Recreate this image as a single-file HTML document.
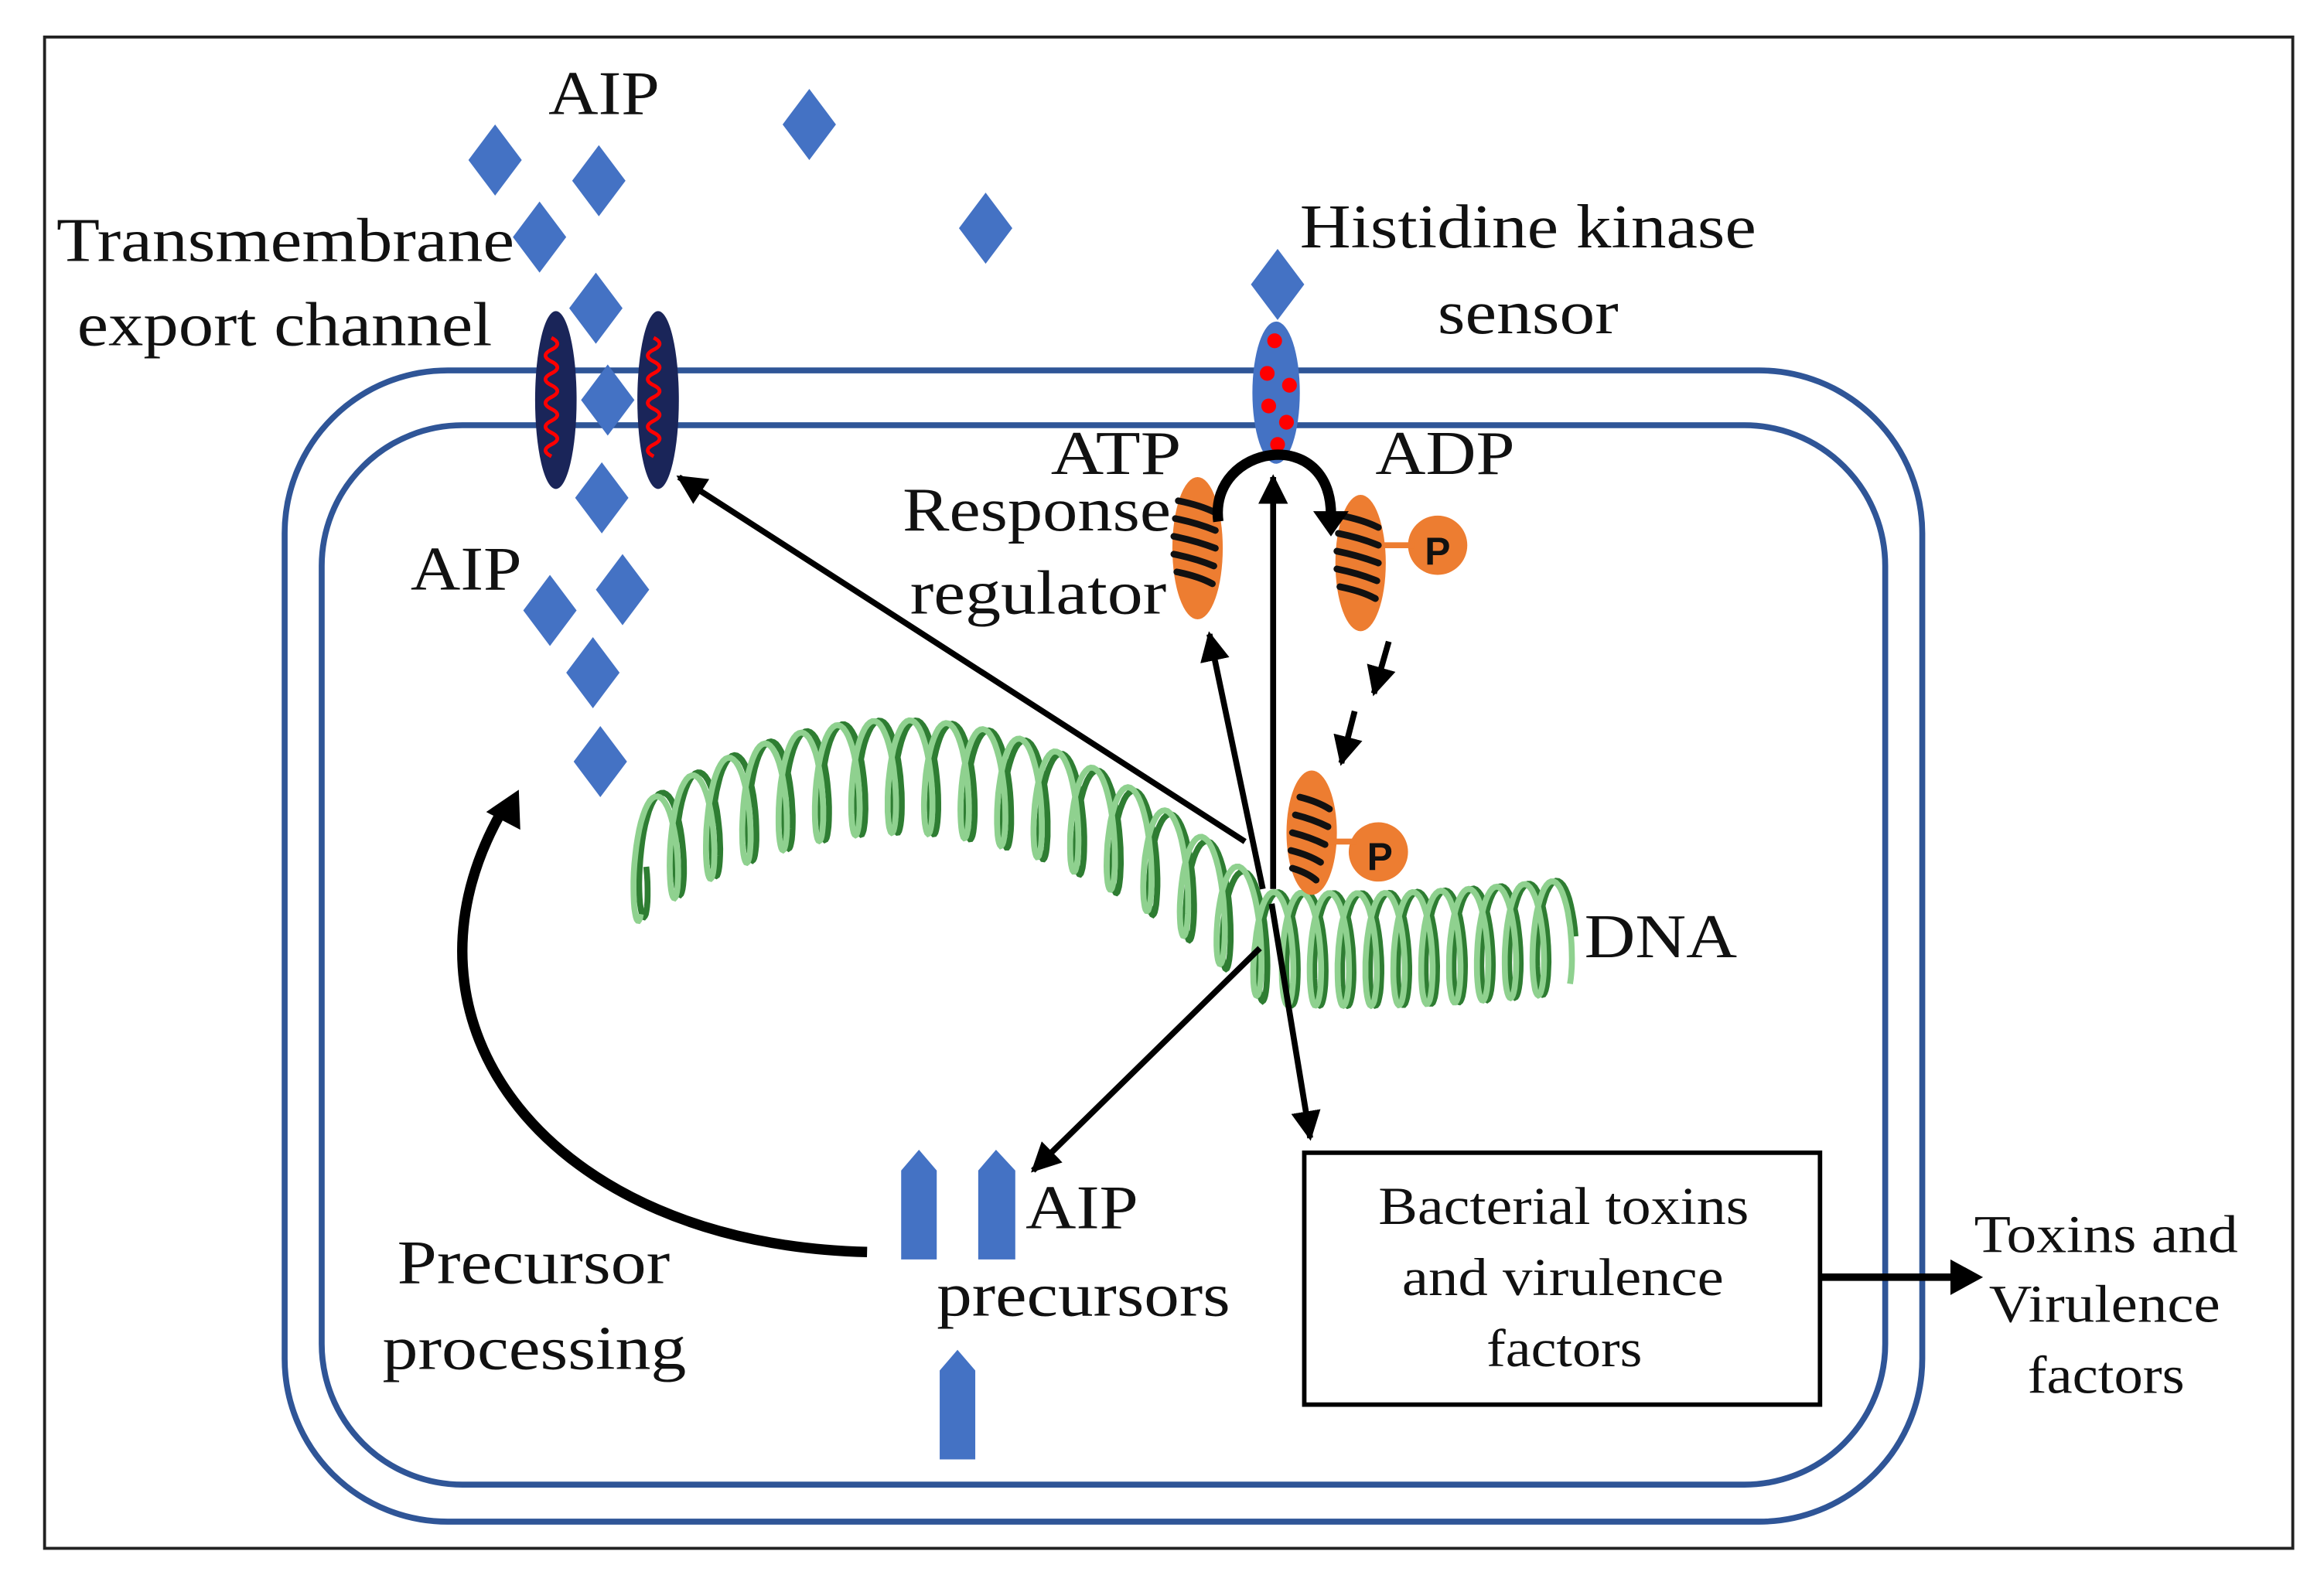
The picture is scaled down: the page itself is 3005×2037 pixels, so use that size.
<!DOCTYPE html>
<html><head><meta charset="utf-8"><style>
html,body{margin:0;padding:0;background:#fff}
svg{display:block}
text{font-family:"Liberation Serif",serif;fill:#111}
</style></head><body>
<svg id="s" width="3005" height="2037" viewBox="0 0 1568 1063" xmlns="http://www.w3.org/2000/svg">
<defs>
<marker id="ah" viewBox="0 0 10 10" refX="9" refY="5" markerWidth="5" markerHeight="5" orient="auto"><path d="M0,0L10,5L0,10z" fill="#000"/></marker>
</defs>
<rect x="30" y="25" width="1517" height="1020" fill="none" stroke="#222" stroke-width="2"/>
<rect x="192" y="250" width="1105" height="777" rx="110" fill="none" stroke="#2f5597" stroke-width="4"/>
<rect x="217" y="287" width="1055" height="715" rx="95" fill="none" stroke="#2f5597" stroke-width="4"/>
<g id="dna"></g>
<ellipse cx="375" cy="270" rx="14" ry="60" fill="#1a2559"/>
<ellipse cx="444" cy="270" rx="14" ry="60" fill="#1a2559"/>
<path d="M372,228 q8,4 0,8 q-8,4 0,8 q8,4 0,8 q-8,4 0,8 q8,4 0,8 q-8,4 0,8 q8,4 0,8 q-8,4 0,8 q8,4 0,8 q-8,4 0,8" fill="none" stroke="#f00" stroke-width="2.5"/>
<path d="M441,228 q8,4 0,8 q-8,4 0,8 q8,4 0,8 q-8,4 0,8 q8,4 0,8 q-8,4 0,8 q8,4 0,8 q-8,4 0,8 q8,4 0,8 q-8,4 0,8" fill="none" stroke="#f00" stroke-width="2.5"/>
<g fill="#4472c4" id="dia"></g>
<ellipse cx="861" cy="265" rx="16" ry="48" fill="#4472c4"/>
<g fill="#f00"><circle cx="860" cy="230" r="5"/><circle cx="855" cy="252" r="5"/><circle cx="870" cy="260" r="5"/><circle cx="856" cy="274" r="5"/><circle cx="868" cy="285" r="5"/><circle cx="862" cy="300" r="5"/></g>
<g fill="#ed7d31">
<ellipse cx="808" cy="370" rx="17" ry="48"/>
<ellipse cx="918" cy="380" rx="17" ry="46"/><circle cx="970" cy="368" r="20"/><rect x="930" y="366" width="24" height="4"/>
<ellipse cx="885" cy="562" rx="17" ry="42"/><circle cx="930" cy="575" r="20"/><rect x="895" y="566" width="20" height="4"/>
</g>
<g stroke="#111" stroke-width="4.5" fill="none" stroke-linecap="round">
<path d="M795,338 q15,3 25,8 M793,350 q15,3 27,8 M792,362 q15,3 28,8 M792,374 q15,3 27,8 M794,386 q15,3 24,8"/>
<path d="M905,348 q15,3 25,8 M903,360 q15,3 27,8 M902,372 q15,3 28,8 M902,384 q15,3 27,8 M904,396 q15,3 24,8"/>
<path d="M877,538 q12,3 20,8 M874,550 q12,3 22,8 M872,562 q12,3 22,8 M871,574 q12,3 20,8 M872,586 q10,3 16,8"/>
</g>
<text x="970" y="381" font-weight="bold" font-size="26" text-anchor="middle" style="font-family:'Liberation Sans',sans-serif">P</text>
<text x="931" y="587" font-weight="bold" font-size="26" text-anchor="middle" style="font-family:'Liberation Sans',sans-serif">P</text>
<g stroke="#000" stroke-width="4" fill="none" marker-end="url(#ah)">
<line x1="840" y1="568" x2="458" y2="322"/>
<line x1="852" y1="600" x2="816" y2="428"/>
<line x1="859" y1="600" x2="859" y2="322"/>
<line x1="850" y1="640" x2="697" y2="790"/>
<line x1="858" y1="610" x2="884" y2="768"/>
<line x1="937" y1="433" x2="927" y2="468"/>
<line x1="914" y1="480" x2="905" y2="515"/>
</g>
<path d="M822,352 C815,300 900,285 898,350" stroke="#000" stroke-width="7" fill="none"/>
<path d="M886,345 L910,345 L898,362z" fill="#000"/>
<path d="M585,845 C370,840 255,690 340,545" stroke="#000" stroke-width="7" fill="none"/>
<path d="M328,548 L350,533 L351,560z" fill="#000"/>
<g fill="#4472c4">
<path d="M608,850 V790 L620,776 L632,790 V850z"/>
<path d="M660,850 V790 L672,776 L685,790 V850z"/>
<path d="M634,985 V925 L646,911 L658,925 V985z"/>
</g>
<rect x="880" y="778" width="348" height="170" fill="none" stroke="#000" stroke-width="3"/>
<line x1="1228" y1="862" x2="1318" y2="862" stroke="#000" stroke-width="5"/>
<path d="M1316,850 L1338,862 L1316,874z" fill="#000"/>
<g font-size="42" lengthAdjust="spacingAndGlyphs">
<text x="370" y="77" textLength="75" lengthAdjust="spacingAndGlyphs">AIP</text>
<text x="38" y="176" textLength="309" lengthAdjust="spacingAndGlyphs">Transmembrane</text>
<text x="52" y="233" textLength="280" lengthAdjust="spacingAndGlyphs">export channel</text>
<text x="277" y="398" textLength="75" lengthAdjust="spacingAndGlyphs">AIP</text>
<text x="877" y="167" textLength="308" lengthAdjust="spacingAndGlyphs">Histidine kinase</text>
<text x="970" y="225" textLength="122" lengthAdjust="spacingAndGlyphs">sensor</text>
<text x="709" y="320" textLength="88" lengthAdjust="spacingAndGlyphs">ATP</text>
<text x="928" y="320" textLength="94" lengthAdjust="spacingAndGlyphs">ADP</text>
<text x="609" y="358" textLength="181" lengthAdjust="spacingAndGlyphs">Response</text>
<text x="614" y="414" textLength="173" lengthAdjust="spacingAndGlyphs">regulator</text>
<text x="1069" y="646" textLength="103" lengthAdjust="spacingAndGlyphs">DNA</text>
<text x="692" y="829" textLength="76" lengthAdjust="spacingAndGlyphs">AIP</text>
<text x="632" y="888" textLength="198" lengthAdjust="spacingAndGlyphs">precursors</text>
<text x="268" y="866" textLength="184" lengthAdjust="spacingAndGlyphs">Precursor</text>
<text x="258" y="924" textLength="205" lengthAdjust="spacingAndGlyphs">processing</text>
</g>
<g font-size="36">
<text x="930" y="826" textLength="250" lengthAdjust="spacingAndGlyphs">Bacterial toxins</text>
<text x="946" y="874" textLength="217" lengthAdjust="spacingAndGlyphs">and virulence</text>
<text x="1003" y="922" textLength="105" lengthAdjust="spacingAndGlyphs">factors</text>
<text x="1332" y="845" textLength="178" lengthAdjust="spacingAndGlyphs">Toxins and</text>
<text x="1342" y="892" textLength="156" lengthAdjust="spacingAndGlyphs">Virulence</text>
<text x="1368" y="940" textLength="106" lengthAdjust="spacingAndGlyphs">factors</text>
</g>
</svg>
<script>
var ns="http://www.w3.org/2000/svg";
var d=[[334,108],[404,122],[546,84],[665,154],[364,160],[402,208],[410,270],[406,336],[371,412],[420,398],[400,454],[405,514],[862,192]];
var g=document.getElementById("dia");
d.forEach(function(p){var e=document.createElementNS(ns,"path");e.setAttribute("d","M"+p[0]+","+(p[1]-24)+"L"+(p[0]+18)+","+p[1]+"L"+p[0]+","+(p[1]+24)+"L"+(p[0]-18)+","+p[1]+"z");g.appendChild(e);});
function c(t){
 if(t<0.62){var u=t/0.62;var x=(1-u)*(1-u)*428+2*u*(1-u)*640+u*u*855;var y=(1-u)*(1-u)*585+2*u*(1-u)*440+u*u*640;return[x,y];}
 var u=(t-0.62)/0.38;return[855+u*200,640-u*8+Math.sin(u*3.14)*4];}
var dg=document.getElementById("dna");
[[0,"#2e7d32"],[1.0,"#8fd18f"]].forEach(function(o){
 var s="";for(var i=0;i<=1200;i++){var t=i/1200;var p=c(t);var amp=38;var ph=t*2*Math.PI*28+o[0];var x=p[0]+8*Math.cos(ph);var y=p[1]+amp*Math.sin(ph);s+=(i?"L":"M")+x.toFixed(1)+","+y.toFixed(1);}
 var e=document.createElementNS(ns,"path");e.setAttribute("d",s);e.setAttribute("fill","none");e.setAttribute("stroke",o[1]);e.setAttribute("stroke-width","4");dg.appendChild(e);
});
</script>
</body></html>
